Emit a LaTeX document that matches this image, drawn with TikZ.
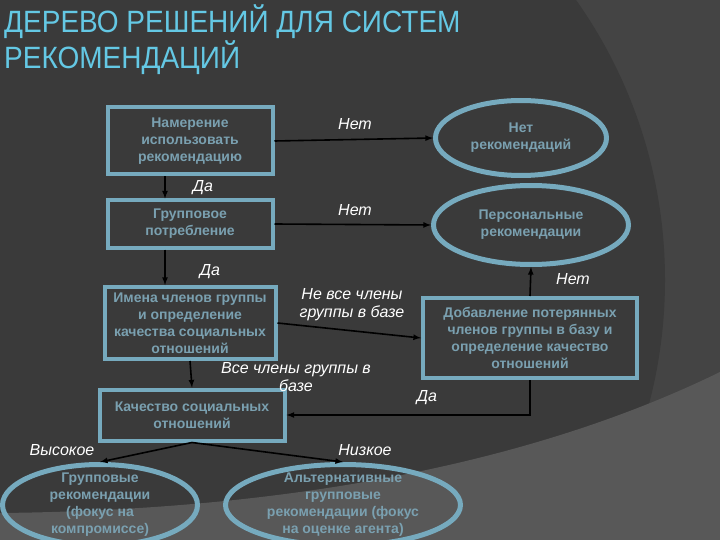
\documentclass[tikz,border=0pt]{standalone}
\usepackage{fontspec}
\setmainfont{Liberation Sans}
\usetikzlibrary{shapes.geometric}

\definecolor{bgmain}{RGB}{58,58,58}
\definecolor{bgside}{RGB}{68,68,68}
\definecolor{bgband}{RGB}{88,88,88}
\definecolor{boxline}{RGB}{118,170,190}
\definecolor{boxtext}{RGB}{122,160,176}
\definecolor{titlecol}{RGB}{100,200,228}

\begin{document}
\begin{tikzpicture}[
      x=1pt, y=-1pt,
      box/.style={draw=boxline,line width=4pt,text=boxtext,align=center,inner sep=2pt,
        font=\bfseries\fontsize{14}{17}\selectfont},
      oval/.style={ellipse,draw=boxline,line width=5pt,text=boxtext,align=center,inner sep=-10pt,
        font=\bfseries\fontsize{14}{17}\selectfont},
      lbl/.style={text=white,align=center,font=\itshape\fontsize{16}{18}\selectfont},
      ttl/.style={anchor=north west,inner sep=0pt,text=titlecol,align=left,
        yscale=1.1,transform shape,font=\fontsize{28}{33}\selectfont},
      conn/.style={->,>=latex,line width=1.6pt,black},
      ]
      \useasboundingbox (0,0) rectangle (720,540);
      \clip (0,0) rectangle (720,540);
      \fill[bgside] (0,0) rectangle (720,540);
      \fill[bgmain] (180,280) circle (485pt);
      \fill[bgband] (0,513) .. controls (300,510) and (540,460) .. (720,372) -- (720,540) -- (0,540) -- cycle;

      \node[ttl] (title) at (4,4) {ДЕРЕВО РЕШЕНИЙ ДЛЯ СИСТЕМ\\РЕКОМЕНДАЦИЙ};

      \node[box,minimum width=165pt,minimum height=67pt] (intent) at (190,141) {Намерение\\использовать\\рекомендацию};
      \node[box,minimum width=165pt,minimum height=47pt] (groupuse) at (190,224) {Групповое\\потребление};
      \node[box,minimum width=171pt,minimum height=72pt] (names) at (190,323) {Имена членов группы\\и определение\\качества социальных\\отношений};
      \node[box,minimum width=185pt,minimum height=51pt] (quality) at (192,415) {Качество социальных\\отношений};
      \node[box,minimum width=214pt,minimum height=80pt] (addmissing) at (530,338) {Добавление потерянных\\членов группы в базу и\\определение качество\\отношений};

      \node[oval,minimum width=171pt,minimum height=75pt] (norec) at (521,138) {Нет\\рекомендаций};
      \node[oval,minimum width=195pt,minimum height=79pt] (persrec) at (531,225) {Персональные\\рекомендации};
      \node[oval,minimum width=195pt,minimum height=81pt] (grouprec) at (100,505) {Групповые\\рекомендации\\(фокус на\\компромиссе)};
      \node[oval,minimum width=235pt,minimum height=81pt] (altrec) at (343,505) {Альтернативные\\групповые\\рекомендации (фокус\\на оценке агента)};

      \draw[conn] (intent.east) -- (norec.west);
      \draw[conn] ([xshift=-25pt]intent.south) -- ([xshift=-25pt]groupuse.north);
      \draw[conn] (groupuse.east) -- (persrec.west);
      \draw[conn] ([xshift=-25pt]groupuse.south) -- ([xshift=-25pt]names.north);
      \draw[conn] (names.east) -- (addmissing.west);
      \draw[conn] (names.south) -- (quality.north);
      \draw[conn] (addmissing.north) -- (persrec.south);
      \draw[conn] (addmissing.south) |- (quality.east);
      \draw[conn] (quality.south) -- (grouprec.north);
      \draw[conn] (quality.south) -- (altrec.north);

      \node[lbl] (no1) at (355,124) {Нет};
      \node[lbl] (yes1) at (203,188) {Да};
      \node[lbl] (no2) at (355,210) {Нет};
      \node[lbl] (yes2) at (210,272) {Да};
      \node[lbl] (notall) at (352,305) {Не все члены\\группы в базе};
      \node[lbl] (all) at (296,377) {Все члены группы в\\базе};
      \node[lbl] (no3) at (573,279) {Нет};
      \node[lbl] (yes3) at (427,398) {Да};
      \node[lbl] (high) at (62,450) {Высокое};
      \node[lbl] (low) at (365,450) {Низкое};
    \end{tikzpicture}
\end{document}
